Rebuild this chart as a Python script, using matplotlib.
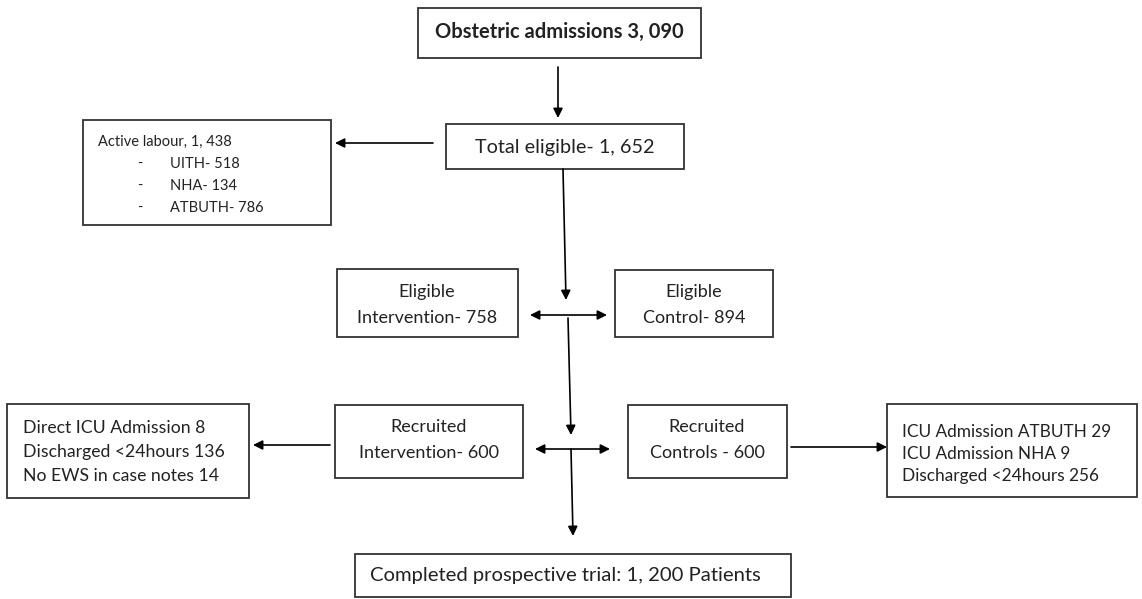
import matplotlib.pyplot as plt

plt.rcParams['font.family'] = ['Lato', 'DejaVu Sans']

# box texts
top_label = 'Obstetric admissions 3, 090'
eligible_label = 'Total eligible- 1, 652'
labour_lines = ['Active labour, 1, 438', 'UITH- 518', 'NHA- 134', 'ATBUTH- 786']
elig_int_label = ['Eligible', 'Intervention- 758']
elig_ctrl_label = ['Eligible', 'Control- 894']
rec_int_label = ['Recruited', 'Intervention- 600']
rec_ctrl_label = ['Recruited', 'Controls - 600']
excl_int_lines = ['Direct ICU Admission 8', 'Discharged <24hours 136', 'No EWS in case notes 14']
excl_ctrl_lines = ['ICU Admission ATBUTH 29', 'ICU Admission NHA 9', 'Discharged <24hours 256']
final_label = 'Completed prospective trial: 1, 200 Patients'

W, H = 1142, 599
fig = plt.figure(figsize=(W / 100, H / 100), dpi=100)
ax = fig.add_axes([0, 0, 1, 1])
ax.set_xlim(0, W)
ax.set_ylim(H, 0)
ax.axis('off')

EDGE = '#333333'
TXT = '#222222'


def box(x0, y0, x1, y1):
    ax.add_patch(plt.Rectangle((x0, y0), x1 - x0, y1 - y0, fill=False,
                               edgecolor=EDGE, lw=1.3))


def arrow(x0, y0, x1, y1, style='-|>'):
    ax.annotate('', xy=(x1, y1), xytext=(x0, y0),
                arrowprops=dict(arrowstyle=style, color='black', lw=1.2,
                                mutation_scale=14, shrinkA=0, shrinkB=0))


# top boxes
box(418, 8, 701, 58)
ax.text(559, 32, top_label, ha='center', va='center', fontsize=14.5,
        fontweight='bold', color=TXT)
arrow(558, 67, 558, 118)

box(446, 124, 684, 169)
ax.text(565, 148, eligible_label, ha='center', va='center', fontsize=14.3,
        color=TXT)

# active labour
box(83, 120, 331, 225)
arrow(433, 143, 335, 143)
ax.text(98, 142, labour_lines[0], ha='left', va='center', fontsize=10.5, color=TXT)
for i, s in enumerate(labour_lines[1:]):
    y = 164 + i * 22
    ax.text(137, y, '-', ha='left', va='center', fontsize=10.5, color=TXT)
    ax.text(170, y, s, ha='left', va='center', fontsize=10.5, color=TXT)

# eligible split
arrow(563, 169, 566, 300)
box(337, 269, 518, 337)
box(615, 270, 773, 337)
for (cx, lines) in [(427, elig_int_label), (694, elig_ctrl_label)]:
    ax.text(cx, 292, lines[0], ha='center', va='center', fontsize=13, color=TXT)
    ax.text(cx, 318, lines[1], ha='center', va='center', fontsize=13, color=TXT)
arrow(530, 315, 607, 315, '<|-|>')

# recruited split
arrow(568, 318, 571, 435)
box(335, 405, 523, 478)
box(628, 405, 787, 478)
for (cx, lines) in [(429, rec_int_label), (707, rec_ctrl_label)]:
    ax.text(cx, 427, lines[0], ha='center', va='center', fontsize=13, color=TXT)
    ax.text(cx, 453, lines[1], ha='center', va='center', fontsize=13, color=TXT)
arrow(535, 449, 610, 449, '<|-|>')

# exclusions
box(7, 404, 249, 498)
arrow(330, 445, 253, 445)
for i, s in enumerate(excl_int_lines):
    ax.text(23, 428 + i * 24, s, ha='left', va='center', fontsize=12.7, color=TXT)

box(887, 404, 1137, 497)
arrow(791, 447, 887, 447)
for i, s in enumerate(excl_ctrl_lines):
    ax.text(902, 432 + i * 22, s, ha='left', va='center', fontsize=12.4, color=TXT)

# completed
arrow(571, 449, 573, 536)
box(355, 554, 791, 597)
ax.text(370, 576, final_label, ha='left', va='center', fontsize=14.6, color=TXT)

fig.savefig('out.png', dpi=100)
